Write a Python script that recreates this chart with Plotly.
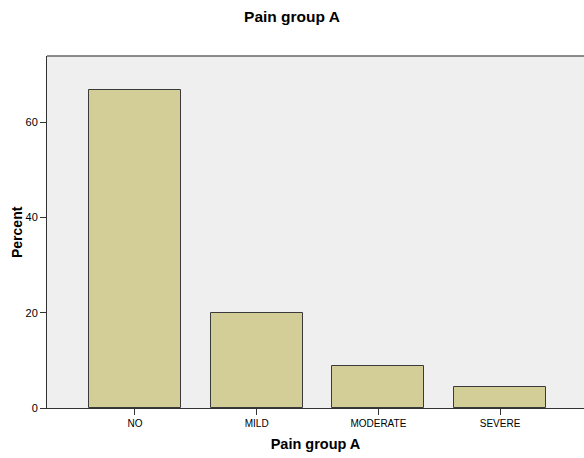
import plotly.graph_objects as go

categories = ["NO", "MILD", "MODERATE", "SEVERE"]
percent = [66.7, 20.0, 8.9, 4.4]
y_ticks = [0, 20, 40, 60]

W, H = 584, 458
ML, MT, MB = 47, 56, 50

fig = go.Figure()
fig.add_trace(go.Bar(
    x=list(range(len(categories))), y=percent,
    width=0.756,
    marker=dict(color="#D3CE98", line=dict(color="#3a3a3a", width=1)),
))

fig.update_layout(
    width=W, height=H,
    margin=dict(l=ML, r=0, t=MT, b=MB),
    paper_bgcolor="white",
    plot_bgcolor="#EFEFEF",
    showlegend=False,
    font=dict(family="Liberation Sans, Arial, sans-serif", color="black", size=10),
    title=dict(text="<b>Pain group A</b>", x=292 / W, xref="container", xanchor="center",
               y=1 - 17 / H, yref="container", yanchor="middle",
               font=dict(size=15.5, color="black")),
    bargap=0,
)

fig.update_xaxes(
    range=[-0.723, 3.69],
    tickmode="array", tickvals=list(range(len(categories))), ticktext=categories,
    ticks="outside", ticklen=6, tickcolor="#333", tickwidth=1,
    showline=True, linecolor="#333", linewidth=1,
    showgrid=False, zeroline=False,
    tickfont=dict(size=10),
    title=dict(text="<b>Pain group A</b>", font=dict(size=14.5), standoff=10),
)
fig.update_yaxes(
    range=[0, 73.9],
    tickmode="array", tickvals=y_ticks,
    ticks="outside", ticklen=6, tickcolor="#333", tickwidth=1,
    showline=True, linecolor="#333", linewidth=1,
    showgrid=False, zeroline=False,
    tickfont=dict(size=11),
)
fig.add_annotation(
    text="<b>Percent</b>", textangle=-90, showarrow=False,
    xref="paper", yref="paper",
    x=(17 - ML) / (W - ML), y=(H - MB - 232) / (H - MT - MB),
    xanchor="center", yanchor="middle", font=dict(size=14),
)
fig.add_shape(type="line", xref="paper", yref="paper", x0=0, x1=1, y0=1, y1=1,
              line=dict(color="#666", width=1.5))

fig.write_html(
    "out.html",
    config={"displayModeBar": False},
    post_script="document.body.style.margin='0';document.body.style.overflow='hidden';",
)
